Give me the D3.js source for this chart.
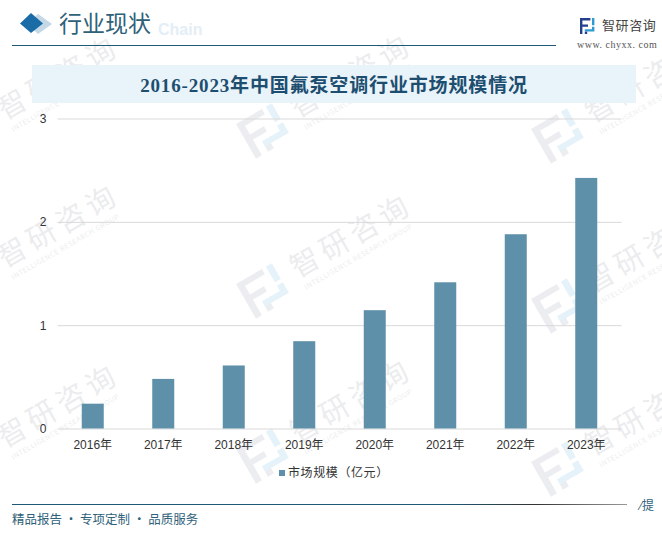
<!DOCTYPE html>
<html>
<head>
<meta charset="utf-8">
<script src="https://d3js.org/d3.v7.min.js"></script>
<style>
  html, body { margin: 0; padding: 0; background: #fff; }
  svg { display: block; }
  text { font-family: "Noto Sans CJK SC", sans-serif; }
  .serif { font-family: "Liberation Serif", "Noto Sans CJK SC", serif; font-weight: 700; }
  .axis text { font-family: "Liberation Sans", "Noto Sans CJK SC", sans-serif; font-size: 12px; fill: #333; }
  .axis .domain { display: none; }
  .axis line { stroke: #d9d9d9; }
</style>
</head>
<body>
<svg id="p" width="662" height="536"></svg>
<script>
const years = ["2016年", "2017年", "2018年", "2019年", "2020年", "2021年", "2022年", "2023年"];
const marketSize = [0.24, 0.48, 0.61, 0.845, 1.145, 1.415, 1.88, 2.425];
const yTicks = [0, 1, 2, 3];
const watermarkSpots = [[-57, 126], [236, 124], [531, 129], [-57, 274], [236, 284], [531, 299], [-57, 454], [236, 449], [531, 462]];

const svg = d3.select("svg#p");
const margin = { top: 118.5, right: 40.5, bottom: 107.5, left: 57.5 };
const x = d3.scaleBand().domain(years).range([margin.left, 662 - margin.right]);
const y = d3.scaleLinear().domain([0, 3]).range([536 - margin.bottom, margin.top]);
const barWidth = 22;

const logoDark = "M0 0H13V3H3V8H10V11H3V20H0Z M6 17H9V20H6Z";
const logoBlue = "M15 0H18V9H15Z M6 14H15V11H18V17H6Z";

// watermark
const marks = svg.append("g");
watermarkSpots.forEach(s => {
  const g = marks.append("g").attr("transform", "translate(" + s[0] + "," + s[1] + ") rotate(-30)");
  g.append("path").attr("d", logoDark).attr("transform", "scale(2.3,2)").attr("fill", "#8a94a8").attr("opacity", 0.17);
  g.append("path").attr("d", logoBlue).attr("transform", "scale(2.3,2)").attr("fill", "#6ab4dc").attr("opacity", 0.17);
  g.append("text").text("智研咨询").attr("x", 56).attr("y", 26)
    .style("font-size", "29px").style("letter-spacing", "5px").style("fill", "#8a8f98").attr("opacity", 0.16);
  g.append("text").text("INTELLIGENCE RESEARCH GROUP").attr("x", 58).attr("y", 40)
    .style("font-size", "7px").style("letter-spacing", "0.5px").style("fill", "#8a8f98").attr("opacity", 0.16);
});

// header
svg.append("text").text("Chain").attr("x", 158).attr("y", 35)
  .style("font-size", "16px").style("font-weight", "700").style("fill", "#e3eef6")
  .style("font-family", "'Liberation Sans', sans-serif");
svg.append("path").attr("d", "M38 14L52 24L38 34L28 24Z").attr("fill", "#c4d8e6");
svg.append("path").attr("d", "M31 13L43 23.500L31 33L20 23.500Z").attr("fill", "#1a6ca6");
svg.append("text").text("行业现状").attr("x", 59).attr("y", 32)
  .style("font-size", "23px").style("fill", "#2f6179");
svg.append("line").attr("x1", 12).attr("x2", 556).attr("y1", 45.5).attr("y2", 45.5).attr("stroke", "#1d5a78").attr("stroke-width", 1);

// logo top right
svg.append("path").attr("d", logoDark).attr("transform", "translate(580,18) scale(0.8)").attr("fill", "#23408c");
svg.append("path").attr("d", logoBlue).attr("transform", "translate(580,18) scale(0.8)").attr("fill", "#2e9ad0");
svg.append("text").text("智研咨询").attr("x", 602).attr("y", 30)
  .style("font-size", "13px").style("letter-spacing", "0.6px").style("fill", "#444");
svg.append("text").text("www. chyxx. com").attr("x", 577).attr("y", 48)
  .style("font-size", "10px").style("letter-spacing", "0.5px").style("fill", "#555").style("font-family", "'Liberation Serif', serif");

// title band
svg.append("rect").attr("x", 32).attr("y", 65).attr("width", 604).attr("height", 38).attr("fill", "#e8f3fa");
svg.append("text").attr("class", "serif").text("2016-2023年中国氟泵空调行业市场规模情况")
  .attr("x", 334).attr("y", 92).attr("text-anchor", "middle")
  .style("font-size", "19px").style("letter-spacing", "0.85px").style("fill", "#1d4e6f");

// axes
const yAxis = d3.axisLeft(y).tickValues(yTicks).tickFormat(d3.format("d")).tickSize(-(662 - margin.left - margin.right)).tickPadding(11);
svg.append("g").attr("class", "axis").attr("transform", "translate(" + margin.left + ",0)").call(yAxis);
const xAxis = d3.axisBottom(x).tickSize(0).tickPadding(12);
svg.append("g").attr("class", "axis").attr("transform", "translate(0," + y(0) + ")").call(xAxis);

// bars
svg.append("g").selectAll("rect").data(years).join("rect")
  .attr("x", d => x(d) + x.bandwidth() / 2 - barWidth / 2)
  .attr("y", (d, i) => y(marketSize[i]))
  .attr("width", barWidth)
  .attr("height", (d, i) => y(0) - y(marketSize[i]))
  .attr("fill", "#5f90aa");

// legend
svg.append("rect").attr("x", 279).attr("y", 470).attr("width", 6).attr("height", 6).attr("fill", "#5f90aa");
svg.append("text").text("市场规模（亿元）").attr("x", 288).attr("y", 477)
  .style("font-size", "12px").style("letter-spacing", "0.6px").style("fill", "#333");

// footer
const fade = svg.append("defs").append("linearGradient").attr("id", "fade");
fade.append("stop").attr("offset", "0.7").attr("stop-color", "#1d5a78");
fade.append("stop").attr("offset", "0.85").attr("stop-color", "#333");
fade.append("stop").attr("offset", "1").attr("stop-color", "#999");
svg.append("rect").attr("x", 12).attr("y", 504).attr("width", 615).attr("height", 1).attr("fill", "url(#fade)");
svg.append("text").text("精品报告 · 专项定制 · 品质服务").attr("x", 12).attr("y", 524)
  .style("font-size", "12.5px").style("fill", "#2f6179");
svg.append("text").text("⁄提").attr("x", 640).attr("y", 510)
  .style("font-size", "12px").style("fill", "#2f5f78");
</script>
</body>
</html>
